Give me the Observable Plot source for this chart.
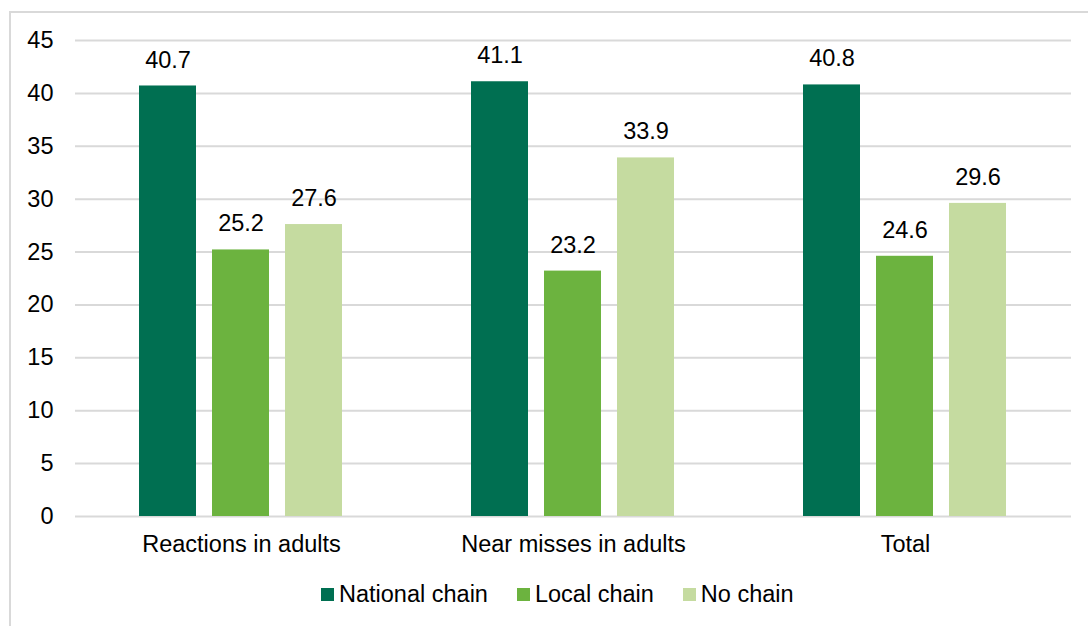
<!DOCTYPE html>
<html>
<head>
<meta charset="utf-8">
<script src="https://cdn.jsdelivr.net/npm/d3@7"></script>
<script src="https://cdn.jsdelivr.net/npm/@observablehq/plot@0.6"></script>
<style>
  html, body { margin: 0; padding: 0; background: #fff; }
  body { width: 1088px; height: 626px; overflow: hidden; font-family: "Liberation Sans", Arial, sans-serif; }
  #chart { position: relative; width: 1088px; height: 626px; }
  #frame { position: absolute; left: 9px; top: 11px; width: 1100px; height: 640px; border: 2px solid #d9d9d9; box-sizing: border-box; }
  #plot { position: absolute; left: 0; top: 0; }
  #legend { position: absolute; top: 581px; left: 321px; display: flex; gap: 29px; font-size: 23.5px; line-height: normal; color: #000; }
  .item { display: flex; align-items: center; }
  .sw { width: 13px; height: 13px; margin-right: 5px; }
</style>
</head>
<body>
<div id="chart">
  <div id="frame"></div>
  <div id="plot"></div>
  <div id="legend"></div>
</div>
<script>
// Categories, series and values
const categories = ["Reactions in adults", "Near misses in adults", "Total"];
const series = ["National chain", "Local chain", "No chain"];
const nationalChain = [40.7, 41.1, 40.8];
const localChain = [25.2, 23.2, 24.6];
const noChain = [27.6, 33.9, 29.6];
const colors = ["#006f51", "#6cb33f", "#c5dba0"];
const yTicks = [0, 5, 10, 15, 20, 25, 30, 35, 40, 45];

const seriesValues = [nationalChain, localChain, noChain];
const rows = [];
categories.forEach((c, i) => {
  series.forEach((s, j) => rows.push({category: c, series: s, value: seriesValues[j][i]}));
});

const chart = Plot.plot({
  width: 1088,
  height: 570,
  marginLeft: 74,
  marginRight: 16,
  marginTop: 40,
  marginBottom: 54,
  style: {fontFamily: "'Liberation Sans', Arial, sans-serif", fontSize: "23.5px", color: "#000", background: "transparent", overflow: "visible"},
  fx: {domain: categories, padding: 0, label: null, tickSize: 0, tickPadding: 19},
  x: {domain: series, paddingInner: 0.216, paddingOuter: 0.856, axis: null},
  y: {domain: [0, 45], ticks: yTicks, label: null, tickSize: 0, tickPadding: 22, tickFormat: d3.format("d")},
  color: {domain: series, range: colors},
  marks: [
    Plot.ruleY(yTicks, {stroke: "#d9d9d9", strokeWidth: 2}),
    Plot.barY(rows, {fx: "category", x: "series", y: "value", fill: "series"}),
    Plot.text(rows, {fx: "category", x: "series", y: "value", text: d => d.value.toFixed(1), dy: -26, fontSize: 23.5, fill: "#000"})
  ]
});
document.getElementById("plot").appendChild(chart);

const legend = document.getElementById("legend");
series.forEach((s, i) => {
  const item = document.createElement("div");
  item.className = "item";
  const sw = document.createElement("div");
  sw.className = "sw";
  sw.style.background = colors[i];
  const label = document.createElement("span");
  label.textContent = s;
  item.appendChild(sw);
  item.appendChild(label);
  legend.appendChild(item);
});
</script>
</body>
</html>
